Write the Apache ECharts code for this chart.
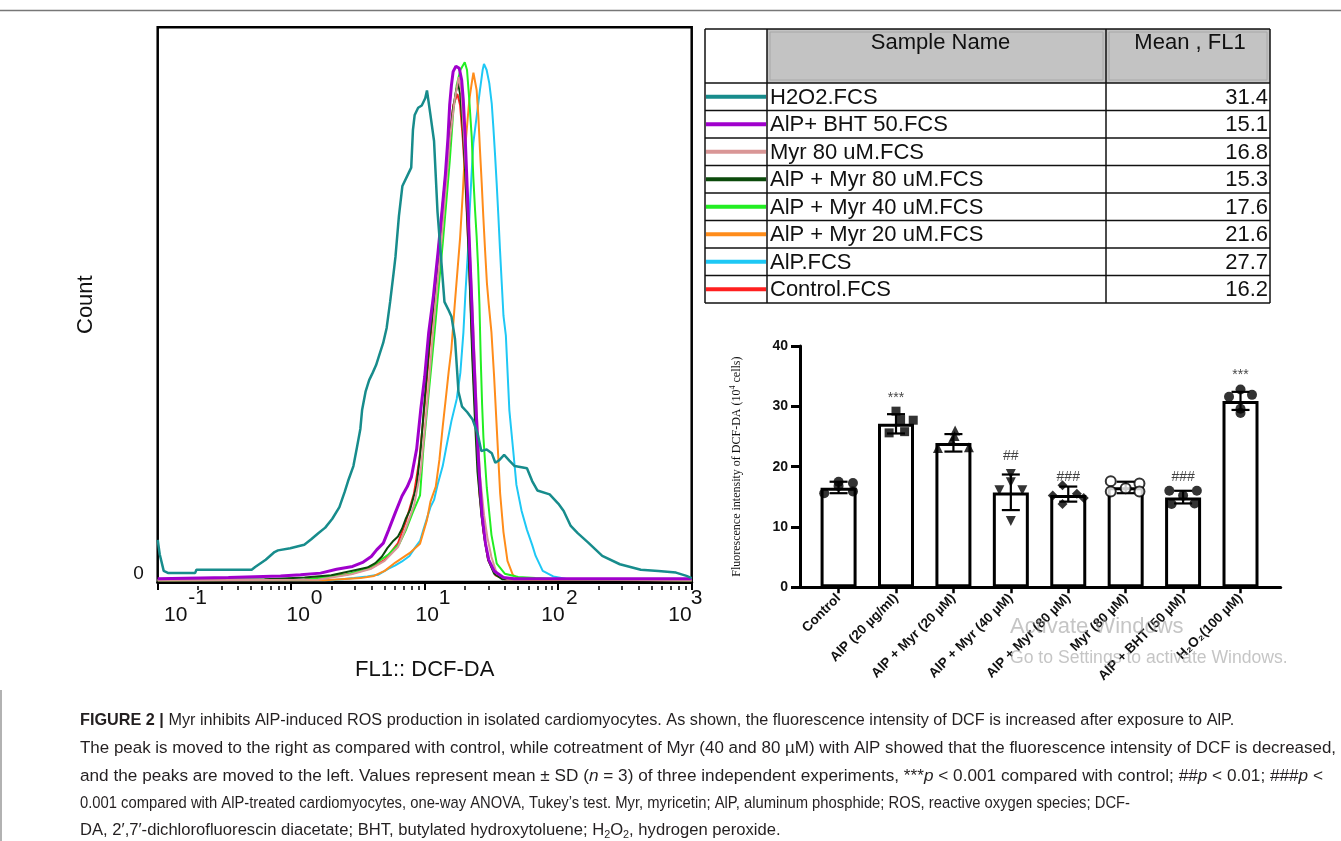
<!DOCTYPE html>
<html><head><meta charset="utf-8">
<script src="https://cdn.jsdelivr.net/npm/echarts@6/dist/echarts.min.js"></script>
<style>html,body{margin:0;padding:0;background:#fff}#c{width:1341px;height:841px}</style>
</head><body><div id="c"></div>
<script>
// ===== Histogram data: x = log10(FL1 :: DCF-DA), y = count (relative scale 0-100) =====
const h2o2Curve = [[-1,7.6],[-0.985,5],[-0.955,2],[-0.92,1.6],[-0.72,1.6],[-0.71,2.2],[-0.296,2.2],[-0.27,2.7],[-0.191,4.0],[-0.125,5.4],[-0.099,5.7],[-0.007,6.1],[0.045,6.4],[0.098,6.7],[0.15,7.7],[0.203,8.8],[0.255,9.8],[0.308,11.4],[0.361,13.5],[0.4,16.2],[0.426,18.2],[0.466,20.9],[0.492,24.2],[0.518,27.6],[0.531,31.0],[0.557,34.3],[0.584,36.4],[0.61,37.7],[0.636,39.1],[0.662,41.1],[0.689,43.1],[0.715,45.8],[0.741,50.5],[0.768,55.9],[0.781,58.6],[0.807,66.0],[0.833,71.4],[0.873,73.4],[0.899,74.7],[0.912,81.5],[0.925,84.2],[0.951,85.5],[0.978,85.9],[1.004,87.2],[1.017,88.6],[1.043,84.2],[1.07,79.5],[1.096,66.7],[1.122,58.6],[1.148,50.5],[1.175,49.2],[1.201,47.8],[1.227,43.8],[1.253,34.3],[1.28,31.6],[1.319,30.6],[1.359,29.3],[1.398,26.6],[1.424,23.6],[1.464,23.9],[1.503,23.2],[1.529,21.5],[1.555,21.9],[1.595,22.9],[1.634,21.9],[1.674,20.9],[1.766,20.5],[1.805,18.2],[1.844,16.5],[1.936,15.8],[2.002,14.1],[2.041,12.8],[2.094,10.1],[2.146,8.8],[2.225,7.1],[2.33,4.7],[2.462,3.2],[2.619,2.2],[2.75,2.0],[2.882,1.7],[2.961,1.1],[3,0.7]];
const bhtCurve = [[-1,0.6],[-0.47,0.8],[-0.08,1.1],[0.07,1.3],[0.22,1.6],[0.34,2.3],[0.46,2.8],[0.54,3.6],[0.6,4.6],[0.64,5.8],[0.69,7.0],[0.73,9.4],[0.78,12.5],[0.83,15.5],[0.87,17.2],[0.9,18.9],[0.94,24],[0.97,31],[1.0,37],[1.03,45],[1.065,51.5],[1.1,59.5],[1.13,67],[1.155,73.5],[1.174,80],[1.187,86],[1.2,89.5],[1.213,92],[1.234,93],[1.259,92.6],[1.277,90.5],[1.289,86.9],[1.302,80.9],[1.315,73.1],[1.327,65.9],[1.339,58.6],[1.352,50.8],[1.365,42.4],[1.385,31],[1.405,21],[1.43,12],[1.455,7],[1.48,4],[1.52,2.0],[1.59,0.8],[1.67,0.6],[3,0.6]];
const myr80Curve = [[-1,0.3],[0.2,0.4],[0.45,1.4],[0.6,2.4],[0.7,3.8],[0.8,6.3],[0.86,9.8],[0.92,13.8],[0.97,20],[1.01,30],[1.045,40],[1.08,50],[1.12,60],[1.155,70],[1.19,80],[1.225,87],[1.255,91],[1.275,88.5],[1.29,82],[1.31,74],[1.327,65],[1.345,56],[1.36,48],[1.378,38],[1.395,28],[1.415,19],[1.445,12],[1.47,8],[1.5,4.5],[1.54,1.5],[1.62,0.5],[3,0.3]];
const alpMyr80Curve = [[-1,0.4],[-0.2,0.5],[0.1,0.8],[0.3,1.2],[0.45,2.0],[0.57,2.6],[0.63,3.4],[0.68,4.6],[0.72,6.1],[0.76,7.3],[0.8,8.2],[0.83,9.6],[0.86,11.5],[0.89,13.0],[0.94,17.4],[0.97,24],[1.0,33],[1.035,43],[1.07,51],[1.105,59],[1.135,66],[1.16,73],[1.185,79],[1.21,85],[1.235,88.5],[1.25,89.9],[1.265,88],[1.285,82],[1.303,74],[1.318,66],[1.331,58],[1.343,50],[1.357,40],[1.375,30],[1.395,20],[1.425,12],[1.45,7.5],[1.475,4],[1.52,1.5],[1.58,0.5],[3,0.4]];
const alpMyr40Curve = [[-1,0.3],[0.1,0.4],[0.41,1.3],[0.54,2.2],[0.62,3.1],[0.73,5.0],[0.81,6.9],[0.86,9.4],[0.91,12.5],[0.965,15.6],[0.99,24],[1.03,34],[1.07,44],[1.11,54.5],[1.135,61],[1.16,68],[1.188,76],[1.214,84.8],[1.24,89.6],[1.267,92.3],[1.3,93.7],[1.317,92.3],[1.334,86.9],[1.352,80.3],[1.364,73.1],[1.377,67.1],[1.389,62.3],[1.4,56.8],[1.41,50],[1.42,40],[1.43,32],[1.44,26],[1.465,17],[1.5,8.5],[1.54,3.3],[1.6,1.5],[1.7,0.9],[1.83,0.7],[2.02,0.5],[3,0.3]];
const alpMyr20Curve = [[-1,0.3],[0.25,0.3],[0.52,0.7],[0.62,1.1],[0.7,2.0],[0.78,3.5],[0.886,5.2],[0.965,6.9],[1.017,11.2],[1.043,14.5],[1.083,17.2],[1.11,22],[1.135,28],[1.16,33.5],[1.18,38],[1.2,42],[1.225,50],[1.245,56],[1.265,62],[1.285,70],[1.302,77.9],[1.319,82.7],[1.334,86.9],[1.352,89.9],[1.365,91.8],[1.389,88.7],[1.402,83.9],[1.414,77.9],[1.427,71.9],[1.439,65.9],[1.452,59.9],[1.466,53.9],[1.48,50],[1.5,45],[1.52,37],[1.535,30],[1.55,23],[1.565,16],[1.59,9],[1.62,3.8],[1.66,1.3],[1.7,0.6],[1.8,0.4],[3,0.3]];
const alpCurve = [[-1,0.3],[0.31,0.3],[0.47,0.7],[0.57,1.0],[0.65,1.3],[0.73,2.4],[0.78,3.0],[0.83,3.7],[0.886,4.7],[0.925,6.1],[0.965,7.4],[0.99,9.4],[1.043,13.5],[1.07,14.8],[1.096,17.5],[1.135,20.9],[1.161,24.2],[1.2,29],[1.24,33],[1.267,37.7],[1.29,45],[1.305,52],[1.325,60],[1.337,67],[1.35,73],[1.364,79.1],[1.389,83.9],[1.414,88.7],[1.434,92.3],[1.444,93.4],[1.464,92.3],[1.484,89.9],[1.502,86.3],[1.514,82.1],[1.527,77],[1.539,71.9],[1.552,65.9],[1.564,59.9],[1.577,53.9],[1.59,48],[1.608,44.4],[1.621,37.7],[1.634,31],[1.661,24.2],[1.687,17.5],[1.726,12.8],[1.766,9.4],[1.805,6.7],[1.831,4.7],[1.884,2.0],[1.963,1.0],[2.094,0.4],[3,0.3]];
const controlCurve = [[-1,0.3],[0.1,0.4],[0.45,1.5],[0.6,2.5],[0.7,4],[0.8,7],[0.86,11],[0.92,16],[0.96,22],[1.0,32],[1.035,42],[1.075,52],[1.11,62],[1.15,72],[1.185,80],[1.215,86],[1.245,88],[1.265,86],[1.285,80],[1.305,72],[1.322,63],[1.338,54],[1.352,45],[1.37,35],[1.39,25],[1.41,16],[1.44,9],[1.475,4],[1.53,1.2],[1.6,0.5],[3,0.3]];

// ===== Legend table =====
const sampleNames = ['H2O2.FCS','AlP+ BHT 50.FCS','Myr 80 uM.FCS','AlP + Myr 80 uM.FCS','AlP + Myr 40 uM.FCS','AlP + Myr 20 uM.FCS','AlP.FCS','Control.FCS'];
const sampleMeans = ['31.4','15.1','16.8','15.3','17.6','21.6','27.7','16.2'];
const sampleColors = ['#178c8c','#a000cc','#d99696','#0b4a0b','#22ee22','#ff8c1a','#1ec8f5','#ff2020'];
const sampleWidths = [2.5,3,2,2,2,2,2,2];
const curves = [h2o2Curve,bhtCurve,myr80Curve,alpMyr80Curve,alpMyr40Curve,alpMyr20Curve,alpCurve,controlCurve];
const tableHeaders = ['Sample Name','Mean , FL1'];

// ===== Histogram axis ticks =====
const decadeTicks = [-1,0,1,2,3];
const decadeBase = '10';
const minorTicks = [];
[-1,0,1,2].forEach(d => { for (let k = 2; k <= 9; k++) minorTicks.push(d + Math.log10(k)); });

// ===== Bar chart data =====
const barCategories = ['Control','AlP (20 µg/ml)','AlP + Myr (20 µM)','AlP + Myr (40 µM)','AlP + Myr (80 µM)','Myr (80 µM)','AlP + BHT (50 µM)','H₂O₂(100 µM)'];
const barMeans = [16.5,27.1,23.9,15.7,15.3,16.6,14.9,30.9];
const sdLow  = [15.6,25.5,22.5,12.8,14.2,15.6,13.9,29.4];
const sdHigh = [17.5,28.7,25.4,18.7,16.7,17.5,16.0,32.4];
const ctrlPts    = [[-0.25,15.6],[0,17.5],[0,16.8],[0.25,17.3],[0.25,15.9]];
const alpPts     = [[-0.12,25.6],[0.15,25.8],[0,29.2],[0.08,27.8],[0.3,27.7]];
const myr20Pts   = [[-0.27,23.1],[-0.03,24.3],[0.02,25.1],[0.03,26.0],[0.27,23.2]];
const myr40Pts   = [[0,18.8],[0,17.4],[-0.2,16.1],[0.2,16.1],[0,11.0]];
const myr80Pts   = [[-0.1,16.9],[-0.27,15.2],[0.15,15.5],[-0.1,13.8],[0.27,14.8]];
const myrOnlyPts = [[-0.26,17.6],[-0.26,15.9],[0,16.4],[0.24,17.2],[0.24,15.9]];
const bhtPts     = [[-0.24,16.0],[0,15.2],[0.24,16.0],[-0.2,13.8],[0.2,13.9]];
const h2o2Pts    = [[-0.2,31.6],[0,32.8],[0.2,31.9],[0,29.6],[0,28.9]];
const groupPoints = [ctrlPts,alpPts,myr20Pts,myr40Pts,myr80Pts,myrOnlyPts,bhtPts,h2o2Pts];
const groupSymbols = ['circle','rect','triangle','triangle','diamond','emptyCircle','circle','circle'];
const groupRotate = [0,0,0,180,0,0,0,0];
const sigLabels = [[1,31.3,'***'],[3,21.7,'##'],[4,18.3,'###'],[6,18.3,'###'],[7,35.2,'***']];

// ===== Caption =====
const captionLines = [
 '{b|FIGURE 2 |} Myr inhibits AlP-induced ROS production in isolated cardiomyocytes. As shown, the fluorescence intensity of DCF is increased after exposure to AlP.',
 'The peak is moved to the right as compared with control, while cotreatment of Myr (40 and 80 µM) with AlP showed that the fluorescence intensity of DCF is decreased,',
 'and the peaks are moved to the left. Values represent mean ± SD ({i|n} = 3) of three independent experiments, ***{i|p} < 0.001 compared with control; ##{i|p} < 0.01; ###{i|p} <',
 '0.001 compared with AlP-treated cardiomyocytes, one-way ANOVA, Tukey’s test. Myr, myricetin; AlP, aluminum phosphide; ROS, reactive oxygen species; DCF-',
 'DA, 2′,7′-dichlorofluorescin diacetate; BHT, butylated hydroxytoluene; H{sub|2}O{sub|2}, hydrogen peroxide.'
];
const watermarkLines = ['Activate Windows','Go to Settings to activate Windows.'];

// ===================================================================
const SANS = "'Liberation Sans', Arial, sans-serif";
const SERIF = "'Liberation Serif', 'Times New Roman', serif";
const chart = echarts.init(document.getElementById('c'), null, {renderer:'canvas'});

// per-decade horizontal offsets (px) of the "10" and of the exponent relative to the tick
const baseShift = [18, 7, 2.5, -5.3, -11.7];
const expShift  = [40, 25.5, 20, 13.7, 5];
function shiftRich(prefix, shifts) {
  const r = {};
  shifts.forEach((s,i) => {
    r[prefix+i] = {fontSize:21, fontFamily:SANS, color:'#111', lineHeight:22,
      padding:[0, s<0?-2*s:0, 0, s>0?2*s:0]};
  });
  return r;
}

const lineSeries = curves.map((c,i) => ({
  name: sampleNames[i], type:'line', xAxisIndex:0, yAxisIndex:0, data:c,
  showSymbol:false, symbol:'none', smooth:false, clip:true,
  lineStyle:{color:sampleColors[i], width:sampleWidths[i]}, z: 2
})).reverse();

const graphic = [];
graphic.push({type:'line', shape:{x1:0,y1:10.5,x2:1341,y2:10.5}, style:{stroke:'#777', lineWidth:1.5}});
graphic.push({type:'line', shape:{x1:1,y1:690,x2:1,y2:841}, style:{stroke:'#999', lineWidth:1.5}});
const tL=705, tC1=767, tC2=1106, tR=1270, tT=29, tH=83, rowH=27.5;
const tB = tH + rowH*sampleNames.length;
graphic.push({type:'rect', shape:{x:tC1,y:tT,width:tC2-tC1,height:tH-tT}, style:{fill:'#c3c3c3'}});
graphic.push({type:'rect', shape:{x:tC2,y:tT,width:tR-tC2,height:tH-tT}, style:{fill:'#c3c3c3'}});
graphic.push({type:'rect', shape:{x:tC1+3,y:tT+3,width:tC2-tC1-6,height:tH-tT-6}, style:{fill:'none',stroke:'#a8a8a8',lineWidth:1}});
graphic.push({type:'rect', shape:{x:tC2+3,y:tT+3,width:tR-tC2-6,height:tH-tT-6}, style:{fill:'none',stroke:'#a8a8a8',lineWidth:1}});
[tT,tH].concat(sampleNames.map((_,i)=>tH+rowH*(i+1))).forEach(y => {
  graphic.push({type:'line', shape:{x1:tL,y1:y,x2:tR,y2:y}, style:{stroke:'#111',lineWidth:1.5}});
});
[tL,tC1,tC2,tR].forEach(x => {
  graphic.push({type:'line', shape:{x1:x,y1:tT,x2:x,y2:tB}, style:{stroke:'#111',lineWidth:1.5}});
});
const tFont = 22;
graphic.push({type:'text', x:(tC1+tC2)/2+4, y:43, style:{text:tableHeaders[0], fontSize:tFont, fontFamily:SANS, fill:'#111', align:'center', verticalAlign:'middle', textAlign:'center', textVerticalAlign:'middle'}});
graphic.push({type:'text', x:(tC2+tR)/2+2, y:43, style:{text:tableHeaders[1], fontSize:tFont, fontFamily:SANS, fill:'#111', align:'center', verticalAlign:'middle', textAlign:'center', textVerticalAlign:'middle'}});
sampleNames.forEach((n,i) => {
  const cy = tH + rowH*i + rowH/2;
  graphic.push({type:'line', shape:{x1:tL+1,y1:cy,x2:tC1-1,y2:cy}, style:{stroke:sampleColors[i],lineWidth:4}});
  graphic.push({type:'text', x:tC1+3, y:cy+1, style:{text:n, fontSize:tFont, fontFamily:SANS, fill:'#111', align:'left', verticalAlign:'middle', textAlign:'left', textVerticalAlign:'middle'}});
  graphic.push({type:'text', x:tR-2, y:cy+1, style:{text:sampleMeans[i], fontSize:tFont, fontFamily:SANS, fill:'#111', align:'right', verticalAlign:'middle', textAlign:'right', textVerticalAlign:'middle'}});
});

// caption lines, each horizontally fitted to the width it occupies in the figure
const capY = [720,748,776,803,830];
const capRight = [1234,1336,1323,1130,787];
const capFS = 16.9;
const capRich = {
  b:{fontSize:capFS, fontFamily:SANS, fontWeight:'bold', fill:'#231f20', color:'#231f20'},
  i:{fontSize:capFS, fontFamily:SANS, fontStyle:'italic', fill:'#231f20', color:'#231f20'},
  sub:{fontSize:11, fontFamily:SANS, verticalAlign:'bottom', lineHeight:13, fill:'#231f20', color:'#231f20'}
};
const mctx = document.createElement('canvas').getContext('2d');
captionLines.forEach((t,i) => {
  const plain = t.replace(/\{\w+\|([^}]*)\}/g, '$1');
  mctx.font = capFS + 'px ' + SANS;
  let w = mctx.measureText(plain).width;
  const sx = (capRight[i] - 80) / w;
  graphic.push({type:'text', x:80, y:capY[i], scaleX:sx, originX:0, originY:0,
    style:{text:t, rich:capRich, fontSize:capFS, fontFamily:SANS, fill:'#231f20', lineHeight:20, align:'left', verticalAlign:'middle', textAlign:'left', textVerticalAlign:'middle'}});
});
graphic.push({type:'text', x:1010, y:627, z:100, style:{text:watermarkLines[0], fontSize:22, fontFamily:SANS, fill:'rgba(150,150,150,0.55)', align:'left', verticalAlign:'middle', textAlign:'left', textVerticalAlign:'middle'}});
graphic.push({type:'text', x:1010, y:658, z:100, style:{text:watermarkLines[1], fontSize:17.6, fontFamily:SANS, fill:'rgba(150,150,150,0.55)', align:'left', verticalAlign:'middle', textAlign:'left', textVerticalAlign:'middle'}});

const pointData = [];
groupPoints.forEach((pts,g) => pts.forEach(p => {
  const empty = groupSymbols[g] === 'emptyCircle';
  pointData.push({
    value:[g + p[0], p[1]],
    symbol: empty ? 'circle' : groupSymbols[g],
    symbolRotate: groupRotate[g],
    symbolSize: groupSymbols[g]==='rect' ? 9 : 10,
    itemStyle: empty ? {color:'#fff', borderColor:'#000', borderWidth:2} : {color:'#000'}
  });
}));

const histAxisBase = {gridIndex:0, type:'value', position:'bottom', min:-1, max:3, splitLine:{show:false}, axisLine:{show:false}};
const option = {
  animation:false,
  backgroundColor:'#fff',
  grid:[
    {left:157.7, right:1341-691.7, top:27.3, bottom:841-582, show:true, borderColor:'#000', borderWidth:2.5, backgroundColor:'transparent', containLabel:false, outerBoundsMode:'none'},
    {left:800, right:1341-1280.7, top:346, bottom:841-587.3, containLabel:false, outerBoundsMode:'none'}
  ],
  xAxis:[
    Object.assign({}, histAxisBase, {interval:1,
     axisLine:{show:true, onZero:false, lineStyle:{color:'#000', width:3}}, axisTick:{show:false}, axisLabel:{show:false},
     name:'FL1:: DCF-DA', nameLocation:'middle', nameGap:77, nameTextStyle:{fontSize:22, fontFamily:SANS, color:'#111'}}),
    Object.assign({}, histAxisBase, {interval:1, offset:3,
     axisTick:{show:true, length:8, lineStyle:{color:'#000', width:2}},
     axisLabel:{show:true, interval:0, margin:2, rich:shiftRich('e', expShift),
       formatter:(v) => { const i = decadeTicks.indexOf(Math.round(v)); return '{e'+i+'|'+Math.round(v)+'}'; }}}),
    Object.assign({}, histAxisBase, {interval:1, offset:3,
     axisTick:{show:false},
     axisLabel:{show:true, interval:0, margin:19, rich:shiftRich('b', baseShift),
       formatter:(v) => { const i = decadeTicks.indexOf(Math.round(v)); return '{b'+i+'|'+decadeBase+'}'; }}}),
    Object.assign({}, histAxisBase, {offset:4, axisLabel:{show:false},
     axisTick:{show:true, length:4, customValues:minorTicks, lineStyle:{color:'#000', width:1.5}}}),
    {gridIndex:1, type:'value', position:'bottom', min:-0.672, max:7.7,
     axisLine:{show:true, onZero:false, lineStyle:{color:'#000', width:3}}, splitLine:{show:false},
     axisTick:{show:true, length:6, customValues:[0,1,2,3,4,5,6,7], lineStyle:{color:'#000', width:2.5}},
     axisLabel:{show:true, customValues:[0,1,2,3,4,5,6,7], rotate:45, margin:9, fontSize:13.5, fontWeight:'bold', fontFamily:SANS, color:'#111',
       formatter:(v) => barCategories[Math.round(v)]}}
  ],
  yAxis:[
    {gridIndex:0, type:'value', position:'left', min:0, max:100,
     axisLine:{show:false}, splitLine:{show:false},
     axisTick:{show:true, length:9, customValues:[0], lineStyle:{color:'#000', width:2}},
     axisLabel:{show:true, customValues:[0], margin:14, fontSize:19, fontFamily:SANS, color:'#111', verticalAlign:'bottom', lineHeight:17, formatter:() => '0'},
     name:'Count', nameLocation:'middle', nameGap:61, nameTextStyle:{fontSize:22, fontFamily:SANS, color:'#111'}},
    {gridIndex:1, type:'value', position:'left', min:0, max:40, interval:10,
     axisLine:{show:true, onZero:false, lineStyle:{color:'#000', width:3}}, splitLine:{show:false},
     axisTick:{show:true, length:9, lineStyle:{color:'#000', width:3}},
     axisLabel:{margin:12, fontSize:14, fontWeight:'bold', fontFamily:SANS, color:'#111'},
     name:'Fluorescence intensity of DCF-DA (10{sup|4} cells)', nameLocation:'middle', nameGap:56,
     nameTextStyle:{fontSize:12, fontFamily:SERIF, color:'#111', lineHeight:15,
       rich:{sup:{fontSize:8, fontFamily:SERIF, color:'#111', verticalAlign:'top', lineHeight:9}}}}
  ],
  series: lineSeries.concat([
    {type:'bar', xAxisIndex:4, yAxisIndex:1, data:barMeans.map((v,i)=>[i,v]), barWidth:36,
     itemStyle:{color:'#fff', borderColor:'#000', borderWidth:3}, z:3},
    {type:'custom', xAxisIndex:4, yAxisIndex:1, z:4,
     data:barMeans.map((v,i)=>[i, sdLow[i], sdHigh[i]]),
     encode:{x:0, y:[1,2]},
     renderItem:(params, api) => {
       const x = api.value(0);
       const pLo = api.coord([x, api.value(1)]);
       const pHi = api.coord([x, api.value(2)]);
       const hw = 9, st = {stroke:'#000', lineWidth:2.2};
       return {type:'group', children:[
         {type:'line', shape:{x1:pLo[0],y1:pLo[1],x2:pHi[0],y2:pHi[1]}, style:st},
         {type:'line', shape:{x1:pLo[0]-hw,y1:pLo[1],x2:pLo[0]+hw,y2:pLo[1]}, style:st},
         {type:'line', shape:{x1:pHi[0]-hw,y1:pHi[1],x2:pHi[0]+hw,y2:pHi[1]}, style:st}
       ]};
     }},
    {type:'scatter', xAxisIndex:4, yAxisIndex:1, z:5, data:pointData},
    {type:'scatter', xAxisIndex:4, yAxisIndex:1, z:5, symbolSize:0,
     data:sigLabels.map(s => ({value:[s[0], s[1]], name:s[2]})),
     label:{show:true, position:'inside', formatter:(p)=>p.name, fontSize:14, fontFamily:SANS, color:'#111'}}
  ]),
  graphic: graphic
};
chart.setOption(option);
</script>
</body></html>
